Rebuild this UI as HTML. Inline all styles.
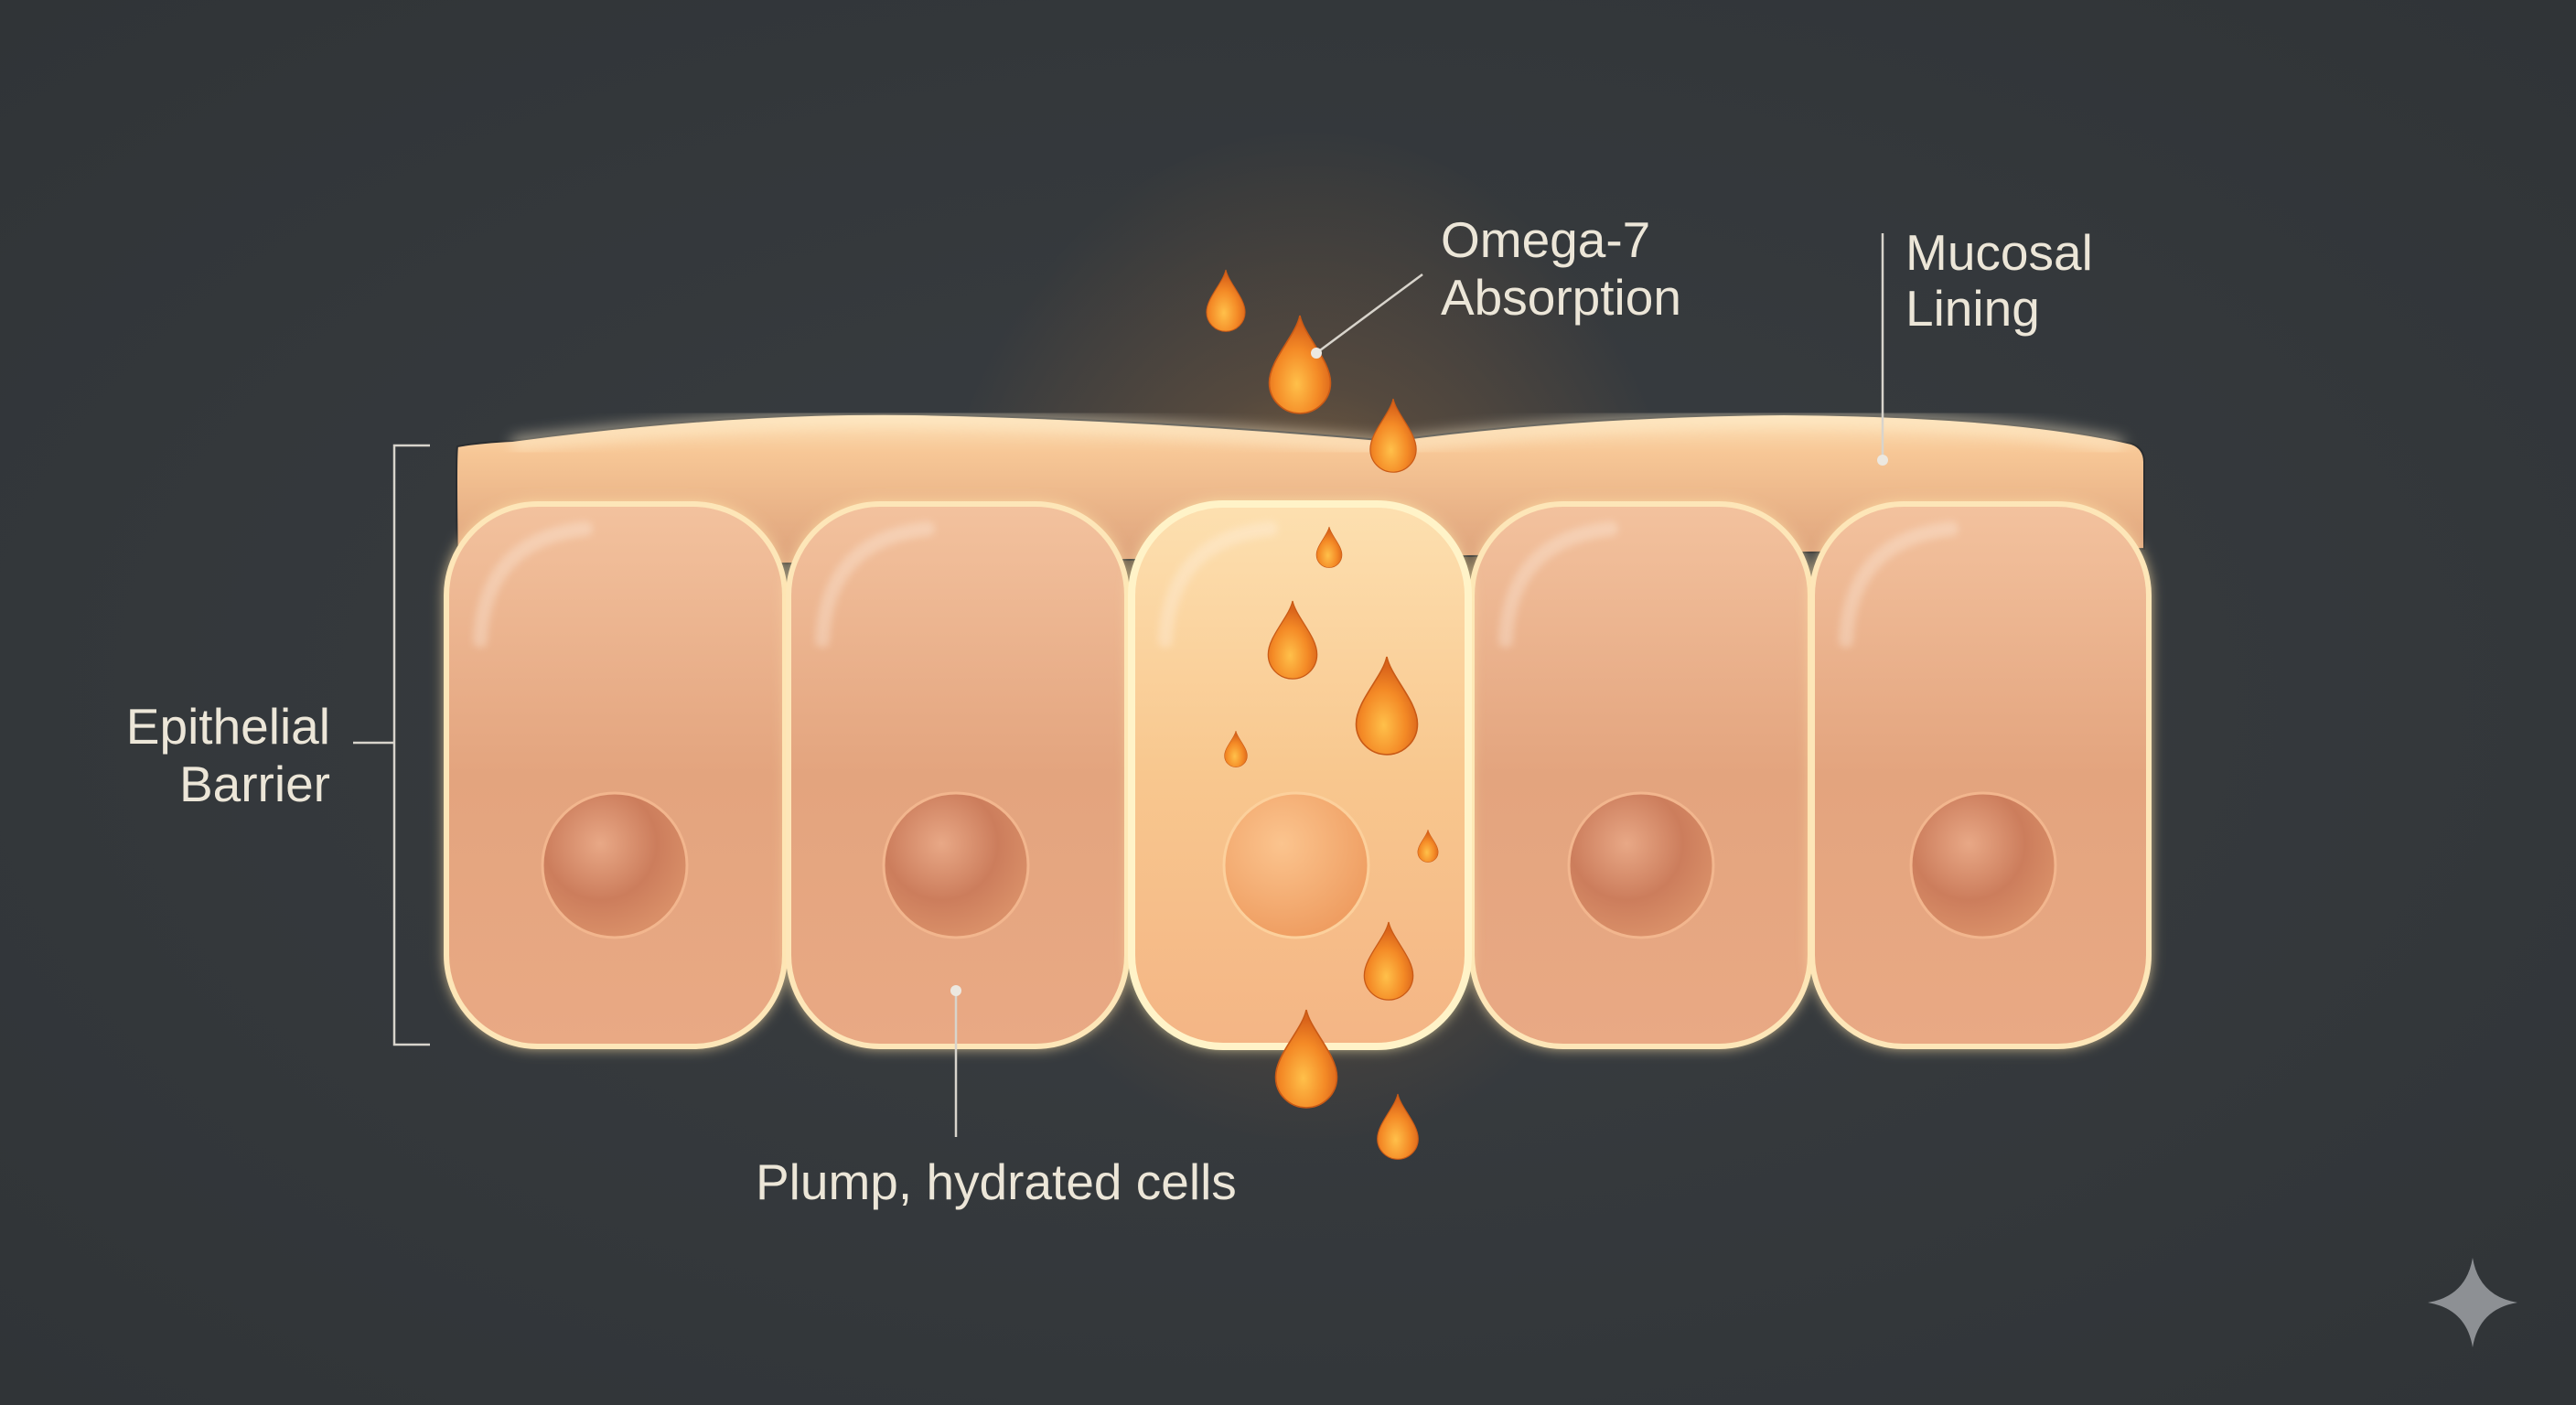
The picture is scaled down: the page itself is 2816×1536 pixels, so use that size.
<!DOCTYPE html>
<html><head><meta charset="utf-8"><style>
html,body{margin:0;padding:0;background:#34383c;}
svg{display:block}
text{font-family:"Liberation Sans",sans-serif;fill:#ece6d8;}
</style></head><body>
<svg width="2816" height="1536" viewBox="0 0 2816 1536" xmlns="http://www.w3.org/2000/svg">
<defs>
<radialGradient id="bg" cx="50%" cy="50%" r="70%">
<stop offset="0" stop-color="#3a3e42"/><stop offset="1" stop-color="#303437"/>
</radialGradient>
<radialGradient id="glow" cx="0.5" cy="0.5" r="0.5">
<stop offset="0" stop-color="#ffb347" stop-opacity="0.5"/><stop offset="0.5" stop-color="#ff9a3c" stop-opacity="0.15"/><stop offset="1" stop-color="#ff9a3c" stop-opacity="0"/>
</radialGradient>
<linearGradient id="band" x1="0" y1="0" x2="0" y2="1">
<stop offset="0" stop-color="#fde2b8"/><stop offset="0.25" stop-color="#f7c796"/><stop offset="1" stop-color="#dca07a"/>
</linearGradient>
<linearGradient id="cell" x1="0" y1="0" x2="0" y2="1">
<stop offset="0" stop-color="#f3c29e"/><stop offset="0.5" stop-color="#e3a47e"/><stop offset="1" stop-color="#e9a984"/>
</linearGradient>
<linearGradient id="cellc" x1="0" y1="0" x2="0" y2="1">
<stop offset="0" stop-color="#fde0b0"/><stop offset="0.5" stop-color="#f8c78e"/><stop offset="1" stop-color="#f4b585"/>
</linearGradient>
<radialGradient id="nuc" cx="0.4" cy="0.35" r="0.65">
<stop offset="0" stop-color="#e8a886"/><stop offset="0.6" stop-color="#cc7d5c"/><stop offset="1" stop-color="#d98f68"/>
</radialGradient>
<radialGradient id="nucc" cx="0.4" cy="0.35" r="0.65">
<stop offset="0" stop-color="#fbc48e"/><stop offset="1" stop-color="#ef9e62"/>
</radialGradient>
<radialGradient id="drop" cx="0.45" cy="0.7" r="0.6">
<stop offset="0" stop-color="#ffc04a"/><stop offset="0.6" stop-color="#f48a26"/><stop offset="1" stop-color="#d9631a"/>
</radialGradient>
<filter id="blur" x="-20%" y="-20%" width="140%" height="140%"><feGaussianBlur stdDeviation="8"/></filter>
<filter id="blur3" x="-20%" y="-20%" width="140%" height="140%"><feGaussianBlur stdDeviation="4"/></filter>
<path id="dp" d="M0,0 C4,20 31,45 31,68 A31,31 0 0 1 -31,68 C-31,45 -4,20 0,0 Z"/>
</defs>
<rect width="2816" height="1536" fill="url(#bg)"/>
<ellipse cx="1430" cy="700" rx="420" ry="560" fill="url(#glow)"/>

<!-- mucosal band -->
<path d="M500,488 Q520,484 560,482 Q800,450 1000,453 Q1250,458 1520,482 Q1720,455 1950,453 Q2200,455 2330,485 Q2344,490 2344,505 L2344,600 L500,620 Q498,500 500,488 Z" fill="url(#band)" stroke="#2a2d30" stroke-width="2"/>
<path d="M560,486 Q800,456 1000,458 Q1250,463 1520,488 Q1720,460 1950,458 Q2200,460 2320,488" fill="none" stroke="#fff0d0" stroke-width="14" opacity="0.6" filter="url(#blur)"/>

<!-- cells -->
<g>
<rect x="488" y="551" width="370" height="593" rx="100" fill="#ffe2a8" filter="url(#blur)"/>
<rect x="488" y="551" width="370" height="593" rx="100" fill="url(#cell)" stroke="#fde6b8" stroke-width="6"/>
<rect x="862" y="551" width="370" height="593" rx="100" fill="#ffe2a8" filter="url(#blur)"/>
<rect x="862" y="551" width="370" height="593" rx="100" fill="url(#cell)" stroke="#fde6b8" stroke-width="6"/>
<rect x="1609" y="551" width="370" height="593" rx="100" fill="#ffe2a8" filter="url(#blur)"/>
<rect x="1609" y="551" width="370" height="593" rx="100" fill="url(#cell)" stroke="#fde6b8" stroke-width="6"/>
<rect x="1981" y="551" width="368" height="593" rx="100" fill="#ffe2a8" filter="url(#blur)"/>
<rect x="1981" y="551" width="368" height="593" rx="100" fill="url(#cell)" stroke="#fde6b8" stroke-width="6"/>
<rect x="1237" y="551" width="368" height="593" rx="100" fill="#fff0b0" filter="url(#blur)"/>
<rect x="1237" y="551" width="368" height="593" rx="100" fill="url(#cellc)" stroke="#fff3c8" stroke-width="8"/>
</g>
<!-- highlights -->
<g fill="none" stroke="#fff6ec" stroke-width="16" opacity="0.3" stroke-linecap="round" filter="url(#blur3)">
<path d="M525,700 Q530,590 640,578"/><path d="M899,700 Q904,590 1014,578"/><path d="M1274,700 Q1279,590 1389,578"/><path d="M1646,700 Q1651,590 1761,578"/><path d="M2018,700 Q2023,590 2133,578"/>
</g>
<!-- nuclei -->
<g stroke="#f2b68e" stroke-width="3">
<circle cx="672" cy="946" r="79" fill="url(#nuc)"/>
<circle cx="1045" cy="946" r="79" fill="url(#nuc)"/>
<circle cx="1417" cy="946" r="79" fill="url(#nucc)" stroke="#fcd09c"/>
<circle cx="1794" cy="946" r="79" fill="url(#nuc)"/>
<circle cx="2168" cy="946" r="79" fill="url(#nuc)"/>
</g>

<!-- drops -->
<g fill="url(#drop)" stroke="#c95a16" stroke-width="1.5">
<use href="#dp" transform="translate(1340,295) scale(0.68)"/>
<use href="#dp" transform="translate(1421,345) scale(1.08)"/>
<use href="#dp" transform="translate(1523,436) scale(0.81)"/>
<use href="#dp" transform="translate(1453,576) scale(0.45)"/>
<use href="#dp" transform="translate(1413,657) scale(0.86)"/>
<use href="#dp" transform="translate(1516,718) scale(1.08)"/>
<use href="#dp" transform="translate(1351,799) scale(0.4)"/>
<use href="#dp" transform="translate(1561,907) scale(0.36)"/>
<use href="#dp" transform="translate(1518,1008) scale(0.86)"/>
<use href="#dp" transform="translate(1428,1104) scale(1.08)"/>
<use href="#dp" transform="translate(1528,1196) scale(0.72)"/>
</g>

<!-- annotations -->
<g stroke="#d8d4cc" stroke-width="2.5" fill="none">
<line x1="1555" y1="300" x2="1439" y2="386"/>
<line x1="2058" y1="255" x2="2058" y2="503"/>
<polyline points="470,487 431,487 431,1142 470,1142"/>
<line x1="386" y1="812" x2="431" y2="812"/>
<line x1="1045" y1="1083" x2="1045" y2="1243"/>
</g>
<g fill="#ece8e0">
<circle cx="1439" cy="386" r="6"/><circle cx="2058" cy="503" r="6"/><circle cx="1045" cy="1083" r="6"/>
</g>
<g font-size="55">
<text x="1575" y="281">Omega-7</text>
<text x="1575" y="344">Absorption</text>
<text x="2083" y="295">Mucosal</text>
<text x="2083" y="356">Lining</text>
<text x="361" y="813" text-anchor="end">Epithelial</text>
<text x="361" y="876" text-anchor="end">Barrier</text>
<text x="826" y="1311">Plump, hydrated cells</text>
</g>
<!-- sparkle -->
<path d="M2703,1375 Q2710,1417 2752,1424 Q2710,1431 2703,1473 Q2696,1431 2654,1424 Q2696,1417 2703,1375 Z" fill="#8d9094"/>
</svg>
</body></html>
